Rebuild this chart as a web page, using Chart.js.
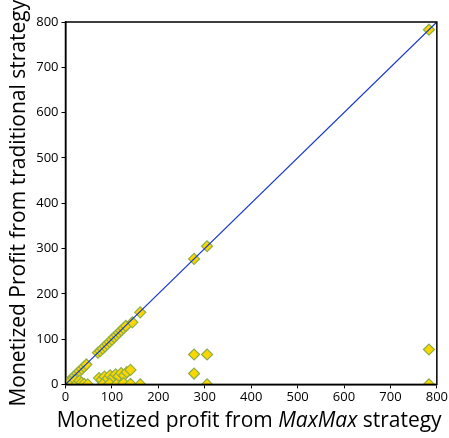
<!DOCTYPE html>
<html>
<head>
<meta charset="utf-8">
<script src="https://cdn.jsdelivr.net/npm/chart.js@4.4.1/dist/chart.umd.min.js"></script>
<style>
  html, body { margin: 0; padding: 0; background: #fff; }
  #wrap { width: 449px; height: 438px; position: relative; }
</style>
</head>
<body>
<div id="wrap"><canvas id="profitChart"></canvas></div>
<script>
// x = MaxMax profit, y = traditional profit
const maxmaxProfit = [3, 8, 12, 16, 20, 25, 30, 35, 40, 45,
    70, 75, 80, 85, 90, 95, 100, 105, 110, 115, 120, 125, 130, 144, 161, 277, 305, 783,
    5, 10, 15, 20, 25, 30, 35, 40, 48,
    72, 78, 84, 90, 96, 102, 108, 114, 120, 126, 132, 140,
    80, 95, 110, 125, 140, 161,
    277, 277, 305, 305, 783, 783];
const traditionalProfit = [2, 7, 11, 15, 19, 24, 29, 34, 39, 44,
    70, 74, 79, 84, 89, 94, 99, 104, 109, 114, 119, 124, 129, 137, 159, 277, 305, 783,
    0, 6, 3, 10, 2, 8, 4, 1, 0,
    14, 10, 17, 12, 20, 15, 22, 18, 25, 20, 27, 32,
    0, 2, 0, 3, 1, 0,
    66, 24, 66, 0, 77, 0];
const tickValues = [0, 100, 200, 300, 400, 500, 600, 700, 800];
const axisMin = tickValues[0];
const axisMax = tickValues[tickValues.length - 1];

const points = maxmaxProfit.map((x, i) => ({ x: x, y: traditionalProfit[i] }));

const frameBox = {
    id: 'frameBox',
    afterDraw(chart) {
        const { ctx, chartArea } = chart;
        ctx.save();
        ctx.strokeStyle = '#000';
        ctx.lineWidth = 1.5;
        ctx.strokeRect(chartArea.left, chartArea.top, chartArea.right - chartArea.left, chartArea.bottom - chartArea.top);
        ctx.restore();
    }
};

// x title has an italic word, so draw it in pieces
const xTitle = {
    id: 'xTitle',
    afterDraw(chart) {
        const { ctx, chartArea } = chart;
        const parts = [
            ['Monetized profit from ', 'normal 21px "Open Sans"'],
            ['MaxMax', 'italic 21px "Open Sans"'],
            [' strategy', 'normal 21px "Open Sans"']
        ];
        ctx.save();
        let total = 0;
        parts.forEach(p => { ctx.font = p[1]; total += ctx.measureText(p[0]).width; });
        let x = (chartArea.left + chartArea.right) / 2 - total / 2 - 2;
        ctx.fillStyle = '#000';
        ctx.textBaseline = 'alphabetic';
        parts.forEach(p => {
            ctx.font = p[1];
            ctx.fillText(p[0], x, 427);
            x += ctx.measureText(p[0]).width;
        });
        ctx.restore();
    }
};

new Chart(document.getElementById('profitChart'), {
    type: 'scatter',
    data: {
        datasets: [{
            type: 'line',
            label: 'y = x',
            data: [{ x: axisMin, y: axisMin }, { x: axisMax, y: axisMax }],
            borderColor: '#1636d0',
            borderWidth: 1.2,
            pointRadius: 0,
            order: 0
        }, {
            label: 'strategies',
            data: points,
            pointStyle: 'rectRot',
            pointRadius: 5.5,
            backgroundColor: '#fad700',
            borderColor: '#8fae4a',
            borderWidth: 1.2,
            order: 1
        }]
    },
    options: {
        responsive: true,
        maintainAspectRatio: false,
        animation: false,
        layout: { padding: { left: 6, right: 12, top: 22, bottom: 32 } },
        plugins: { legend: { display: false }, tooltip: { enabled: false } },
        scales: {
            x: {
                type: 'linear',
                min: axisMin,
                max: axisMax,
                afterBuildTicks: axis => { axis.ticks = tickValues.map(v => ({ value: v })); },
                grid: { display: true, drawOnChartArea: false, drawTicks: true, tickLength: 4, color: '#000' },
                border: { display: true, color: '#000', width: 1.5 },
                ticks: { color: '#000', font: { family: 'Open Sans', size: 13 }, padding: 1, maxRotation: 0 }
            },
            y: {
                type: 'linear',
                min: axisMin,
                max: axisMax,
                afterBuildTicks: axis => { axis.ticks = tickValues.map(v => ({ value: v })); },
                grid: { display: true, drawOnChartArea: false, drawTicks: true, tickLength: 4, color: '#000' },
                border: { display: true, color: '#000', width: 1.5 },
                ticks: { color: '#000', font: { family: 'Open Sans', size: 13 }, padding: 3 },
                title: {
                    display: true,
                    text: 'Monetized Profit from traditional strategy',
                    color: '#000',
                    font: { family: 'Open Sans', size: 21 },
                    padding: { top: 0, bottom: 2 }
                }
            }
        }
    },
    plugins: [frameBox, xTitle]
});
</script>
</body>
</html>
